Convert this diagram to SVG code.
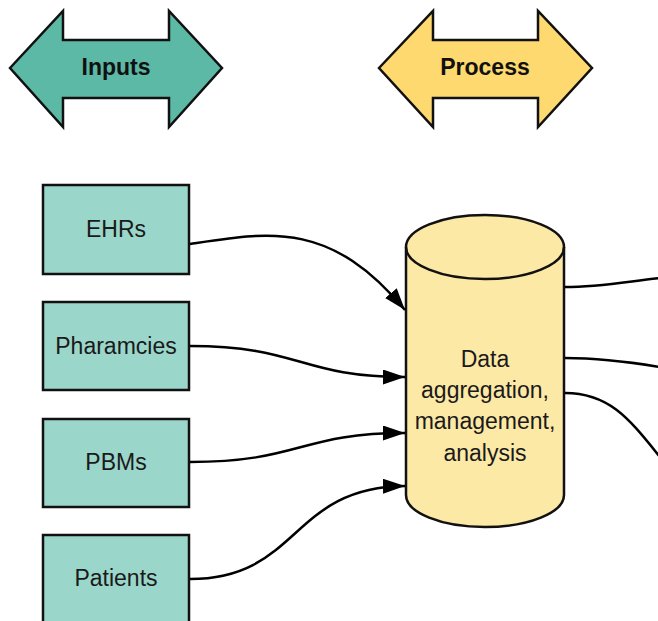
<svg xmlns="http://www.w3.org/2000/svg" width="658" height="621" viewBox="0 0 658 621">
<style>
.lbl{font-family:"Liberation Sans",Arial,sans-serif;font-size:23px;fill:#1a1a1a;text-anchor:middle}
.hdr{font-family:"Liberation Sans",Arial,sans-serif;font-size:23px;font-weight:bold;fill:#111;text-anchor:middle}
.box{fill:#9bd6cb;stroke:#111;stroke-width:2.5}
.conn{fill:none;stroke:#000;stroke-width:2.5}
</style>
<defs>
<marker id="ah" markerUnits="userSpaceOnUse" markerWidth="24" markerHeight="18" refX="22" refY="7.5" orient="auto">
<path d="M0,0 L22,7.5 L0,15 z" fill="#000"/>
</marker>
</defs>
<g id="inputs-header">
<polygon points="10,68 63,11 63,40 169,40 169,11 222,68 169,127 169,98 63,98 63,127" fill="#5cb9a5" stroke="#111" stroke-width="2.5"/>
<text class="hdr" x="116" y="75">Inputs</text>
</g>
<g id="process-header">
<polygon points="379,68 433,11 433,40 538,40 538,11 592,68 538,127 538,98 433,98 433,127" fill="#fdd96f" stroke="#111" stroke-width="2.5"/>
<text class="hdr" x="485" y="75">Process</text>
</g>
<g id="ehrs"><rect class="box" x="43" y="185" width="146" height="89"/><text class="lbl" x="116" y="237">EHRs</text></g>
<g id="pharmacies"><rect class="box" x="43" y="302" width="146" height="88"/><text class="lbl" x="116" y="354">Pharamcies</text></g>
<g id="pbms"><rect class="box" x="43" y="419" width="146" height="88"/><text class="lbl" x="116" y="470">PBMs</text></g>
<g id="patients"><rect class="box" x="43" y="535" width="146" height="89"/><text class="lbl" x="116" y="586">Patients</text></g>
<g id="data-store">
<path d="M406,247 L406,495 A79,32 0 0 0 564,495 L564,247 A79,32 0 0 0 406,247 Z" fill="#fde9a6" stroke="#111" stroke-width="2.5"/>
<path d="M406,247 A79,32 0 0 0 564,247" fill="none" stroke="#111" stroke-width="2.5"/>
<text class="lbl" x="485" y="367">Data</text>
<text class="lbl" x="485" y="398">aggregation,</text>
<text class="lbl" x="485" y="429">management,</text>
<text class="lbl" x="485" y="461">analysis</text>
</g>
<g id="connectors">
<path class="conn" d="M190,244 C270,232 330,220 405,310" marker-end="url(#ah)"/>
<path class="conn" d="M190,346 C300,346 300,377 405,377" marker-end="url(#ah)"/>
<path class="conn" d="M190,462 C300,462 300,433 405,433" marker-end="url(#ah)"/>
<path class="conn" d="M190,579 C300,579 290,487 405,486" marker-end="url(#ah)"/>
<path class="conn" d="M565,287 C600,287 630,281 660,278"/>
<path class="conn" d="M565,358 C600,358 630,362 660,367"/>
<path class="conn" d="M565,393 C610,393 630,420 660,457"/>
</g>
</svg>
